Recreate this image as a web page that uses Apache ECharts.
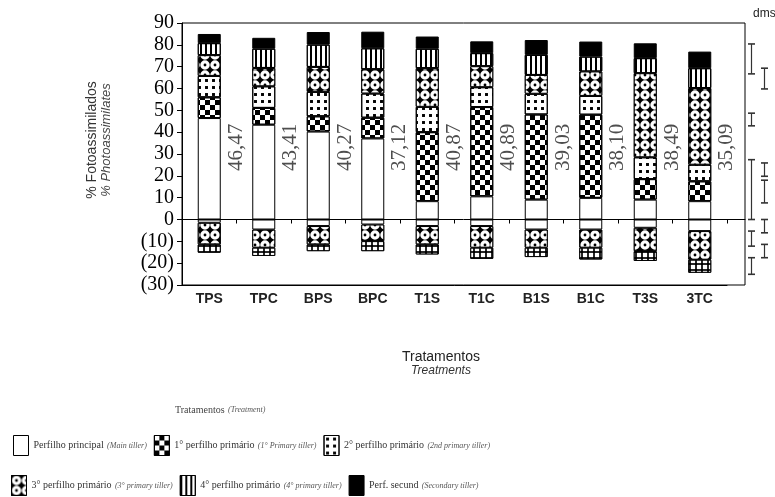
<!DOCTYPE html>
<html><head><meta charset="utf-8">
<script src="https://cdn.jsdelivr.net/npm/echarts@6/dist/echarts.min.js"></script>
<style>html,body{margin:0;padding:0;background:#fff}#c{width:775px;height:497px}</style>
</head><body><div id="c"></div>
<script>
// ---------- data ----------
const categories = ['TPS','TPC','BPS','BPC','T1S','T1C','B1S','B1C','T3S','3TC'];
const mainTiller = [46.47,43.41,40.27,37.12,8.4,10.6,9.1,9.9,9.1,8.4];
const primary1   = [9.5,7.7,7.0,9.5,31.6,40.9,39.0,38.1,9.4,9.1];
const primary2   = [9.8,9.9,11.2,11.1,11.6,9.1,9.5,8.6,10.0,7.6];
const primary3   = [9.5,8.4,11.4,11.1,17.7,9.6,8.6,11.2,38.5,35.1];
const primary4   = [5.5,8.8,10.2,9.6,8.9,6.0,9.2,6.8,6.9,9.1];
const secondary  = [4.2,5.0,5.8,7.6,5.6,5.4,6.8,6.9,6.8,7.6];
const negWhite   = [-1.5,-4.6,-3.0,-2.3,-3.0,-3.0,-4.6,-4.6,-3.8,-5.3];
const negWavy    = [-9.9,-8.3,-8.4,-7.6,-8.4,-9.9,-8.3,-8.3,-10.7,-13.1];
const negSquares = [-3.8,-3.8,-3.1,-4.6,-4.6,-5.1,-4.3,-5.4,-4.5,-6.0];
const barLabels  = ['46,47','43,41','40,27','37,12','40,87','40,89','39,03','38,10','38,49','35,09'];
const LABEL_Y = 33;
const seriesNames   = ['Perfilho principal','1° perfilho primário','2° perfilho primário','3° perfilho primário','4° perfilho primário','Perf. secund'];
const seriesEnglish = ['Main tiller','1° Primary tiller','2nd primary tiller','3° primary tiller','4° primary tiller','Secondary tiller'];
const dmsColumns = ['A','B'];
const dmsA = [[80.4,66.7],[48.7,42.9],[27.4,0],[-5.3,-12.2],[-17.5,-25.1]];
const dmsB = [[69.3,59.8],[25.9,19.8],[18,7.6],[0,-6.1],[-11.4,-17.5]];
const Y_MIN = -30, Y_MAX = 90, Y_STEP = 10;

// ---------- patterns ----------
const ring = 'path://M0 10A10 10 0 1 1 20 10A10 10 0 1 1 0 10ZM7 10A3 3 0 1 0 13 10A3 3 0 1 0 7 10Z';
const decalChecker = {symbol:'rect', symbolSize:1, symbolKeepAspect:false, dashArrayX:[[4.6,4.6],[0,4.6,4.6,0]], dashArrayY:[4.6,0], color:'#000'};
const decalDots = {symbol:'rect', symbolSize:0.42, symbolKeepAspect:false, dashArrayX:[7,0], dashArrayY:[7,0], color:'#000'};
const decalRing = {symbol:ring, symbolSize:0.95, symbolKeepAspect:true, dashArrayX:[10,0], dashArrayY:[10,0], color:'#fff'};
const decalLines = {symbol:'rect', symbolSize:1, symbolKeepAspect:false, dashArrayX:[1.3,2.2], dashArrayY:[10,0], color:'#000'};
const decalNegSq = {symbol:'rect', symbolSize:0.72, symbolKeepAspect:false, dashArrayX:[6,0], dashArrayY:[6,0], color:'#fff'};

const styles = [
  {color:'#fff'},
  {color:'#fff', decal:decalChecker},
  {color:'#fff', decal:decalDots},
  {color:'#000', decal:decalRing},
  {color:'#fff', decal:decalLines},
  {color:'#000'}
];
const posData = [mainTiller, primary1, primary2, primary3, primary4, secondary];

const barSeries = posData.map((d,i)=>({
  name: seriesNames[i], type:'bar', stack:'t', barWidth:23, xAxisIndex:0, yAxisIndex:0,
  data:d, itemStyle:Object.assign({borderColor:'#000', borderWidth:1}, styles[i]),
  emphasis:{disabled:true}
}));
const negSeries = [
  {name:'neg-white', data:negWhite, itemStyle:{color:'#fff'}},
  {name:'neg-wavy', data:negWavy, itemStyle:{color:'#000', decal:decalRing}},
  {name:'neg-squares', data:negSquares, itemStyle:{color:'#000', decal:decalNegSq}}
].map(s=>({type:'bar', stack:'t', barWidth:23, xAxisIndex:0, yAxisIndex:0, name:s.name, data:s.data,
  itemStyle:Object.assign({borderColor:'#000', borderWidth:1}, s.itemStyle), emphasis:{disabled:true}}));

const legendFmt = name => {
  const i = seriesNames.indexOf(name);
  return '{pt|' + name + '} {en|(' + seriesEnglish[i] + ')}';
};
const legendText = {rich:{
  pt:{fontFamily:'Liberation Serif', fontSize:10, color:'#333'},
  en:{fontFamily:'Liberation Serif', fontStyle:'italic', fontSize:8, color:'#555'}
}};

const chart = echarts.init(document.getElementById('c'), null, {renderer:'canvas'});
chart.setOption({
  animation:false,
  backgroundColor:'#fff',
  grid:[
    {left:182, top:23, width:545, height:262, show:false},
    {left:182, top:23, width:563, height:262, show:true, borderColor:'#000', borderWidth:1, backgroundColor:'transparent'},
    {left:745, top:23, width:26, height:262, show:false}
  ],
  xAxis:[
    {type:'category', gridIndex:0, data:categories, position:'bottom',
     axisLine:{onZero:false, lineStyle:{color:'#000'}},
     axisTick:{inside:true, length:4, lineStyle:{color:'#000'}},
     axisLabel:{fontFamily:'Liberation Sans', fontWeight:'bold', fontSize:14, color:'#222', margin:7}},
    {type:'category', gridIndex:0, data:categories, position:'bottom',
     axisLine:{show:false, onZero:true},
     axisTick:{show:true, inside:false, length:4, lineStyle:{color:'#000'}},
     axisLabel:{show:false}},
    {type:'value', gridIndex:1, min:0, max:1,
     axisLine:{show:true, onZero:true, lineStyle:{color:'#000'}},
     axisTick:{show:false}, axisLabel:{show:false}, splitLine:{show:false}},
    {type:'category', gridIndex:2, data:dmsColumns, show:false}
  ],
  yAxis:[
    {type:'value', gridIndex:0, min:Y_MIN, max:Y_MAX, interval:Y_STEP,
     axisLine:{show:true, lineStyle:{color:'#000'}},
     axisTick:{show:true, length:5, lineStyle:{color:'#000'}},
     splitLine:{show:false},
     axisLabel:{fontFamily:'Liberation Serif', fontSize:20, color:'#000', margin:8,
       formatter:v => v < 0 ? '(' + (-v) + ')' : String(v)}},
    {type:'value', gridIndex:1, min:Y_MIN, max:Y_MAX, axisLine:{show:false}, axisTick:{show:false}, axisLabel:{show:false}, splitLine:{show:false}},
    {type:'value', gridIndex:2, min:Y_MIN, max:Y_MAX, show:false}
  ],
  legend:[
    {data:seriesNames.slice(0,3), left:8, top:430, itemWidth:15, itemHeight:20, itemGap:7, selectedMode:false,
     icon:'rect', formatter:legendFmt, textStyle:legendText, itemStyle:{borderColor:'#000', borderWidth:1}},
    {data:seriesNames.slice(3), left:6, top:470, itemWidth:15, itemHeight:20, itemGap:7, selectedMode:false,
     icon:'rect', formatter:legendFmt, textStyle:legendText, itemStyle:{borderColor:'#000', borderWidth:1}}
  ],
  graphic:[
    {type:'text', x:753, y:8, style:{text:'dms', font:'12px "Liberation Sans"', fill:'#222'}},
    {type:'text', x:441, y:357, style:{text:'Tratamentos', font:'14px "Liberation Sans"', fill:'#222', textAlign:'center', textVerticalAlign:'middle'}},
    {type:'text', x:441, y:371, style:{text:'Treatments', font:'italic 12px "Liberation Sans"', fill:'#333', textAlign:'center', textVerticalAlign:'middle'}},
    {type:'text', x:92, y:140, rotation:Math.PI/2, style:{text:'% Fotoassimilados', font:'14px "Liberation Sans"', fill:'#333', textAlign:'center', textVerticalAlign:'middle'}},
    {type:'text', x:106, y:140, rotation:Math.PI/2, style:{text:'% Photoassimilates', font:'italic 13px "Liberation Sans"', fill:'#444', textAlign:'center', textVerticalAlign:'middle'}},
    {type:'text', x:175, y:404, style:{text:'{a|Tratamentos} {b|(Treatment)}', rich:{
      a:{fontFamily:'Liberation Serif', fontSize:10, fill:'#444'},
      b:{fontFamily:'Liberation Serif', fontSize:8, fontStyle:'italic', fill:'#555'}}}}
  ],
  series: barSeries.concat(negSeries).concat([
    {type:'scatter', xAxisIndex:0, yAxisIndex:0, symbolSize:0, silent:true,
     data: categories.map((c,i)=>({value:[c, LABEL_Y], label:{formatter:barLabels[i]}})),
     label:{show:true, position:'inside', rotate:90, offset:[0,27], fontFamily:'Liberation Serif', fontSize:21, color:'#222'}},
    {type:'custom', xAxisIndex:3, yAxisIndex:2, silent:true,
     data: dmsA.map(r=>['A', r[0], r[1]]).concat(dmsB.map(r=>['B', r[0], r[1]])),
     renderItem:(params, api)=>{
       const x = api.value(0), hi = api.value(1), lo = api.value(2);
       const p1 = api.coord([x, hi]), p2 = api.coord([x, lo]);
       const w = 3.5, st = {stroke:'#333', lineWidth:1.2};
       return {type:'group', children:[
         {type:'line', shape:{x1:p1[0], y1:p1[1], x2:p2[0], y2:p2[1]}, style:st},
         {type:'line', shape:{x1:p1[0]-w, y1:p1[1], x2:p1[0]+w, y2:p1[1]}, style:{stroke:'#333', lineWidth:1.6}},
         {type:'line', shape:{x1:p2[0]-w, y1:p2[1], x2:p2[0]+w, y2:p2[1]}, style:{stroke:'#333', lineWidth:1.6}}
       ]};
     }}
  ])
});
</script></body></html>
